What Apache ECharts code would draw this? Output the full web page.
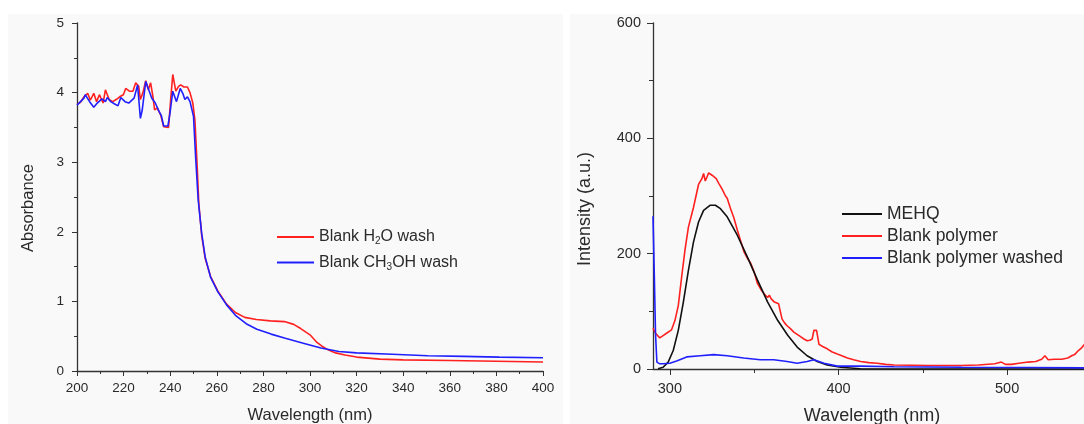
<!DOCTYPE html>
<html>
<head>
<meta charset="utf-8">
<script src="https://cdn.jsdelivr.net/npm/echarts@6/dist/echarts.min.js"></script>
<style>html,body{margin:0;padding:0;background:#fff}#c{width:1084px;height:424px}</style>
</head>
<body>
<div id="c"></div>
<script>
// ---- Left chart: absorbance ----
var wlH2O = [200, 201.5, 203, 204.6, 205.7, 207.2, 208.4, 209.6, 211.2, 212.2, 213.8, 215.3, 216.8, 218.3, 219.9, 220.9, 222.5, 224, 225.2, 226.5, 227.2, 228.3, 229.5, 230.6, 231.6, 232.6, 233.3, 234.4, 235.9, 237.2, 239.3, 240.2, 241.1, 242.4, 243.6, 244.5, 245.9, 247.4, 248.5, 249.7, 250.6, 251.5, 252.3, 253.5, 255, 257.3, 260.4, 264.2, 268, 272, 277, 283, 289, 293, 296, 300, 303, 305, 308, 311, 315, 320, 330, 340, 360, 380, 400];
var absH2O = [3.83, 3.86, 3.94, 3.99, 3.89, 3.99, 3.87, 3.97, 3.85, 4.04, 3.90, 3.87, 3.90, 3.94, 3.97, 4.06, 4.02, 4.02, 4.14, 4.09, 3.90, 4.00, 4.17, 4.04, 4.14, 3.94, 3.75, 3.78, 3.68, 3.51, 3.50, 3.90, 4.26, 4.02, 4.09, 4.11, 4.08, 4.08, 4.00, 3.85, 3.61, 3.00, 2.40, 1.95, 1.62, 1.36, 1.15, 0.96, 0.84, 0.77, 0.74, 0.72, 0.71, 0.67, 0.61, 0.52, 0.41, 0.36, 0.30, 0.26, 0.23, 0.20, 0.17, 0.16, 0.15, 0.14, 0.13];
var wlMeOH = [200, 203, 203.5, 205.4, 207.2, 208.7, 210.7, 212.2, 213, 214.5, 216, 217.6, 218.8, 220.6, 222.2, 224.5, 226, 227.2, 228, 229.5, 231, 232.1, 233.6, 235.2, 236.2, 237.2, 239, 239.9, 241.1, 242.7, 244.3, 245.4, 246.3, 247.4, 248.5, 250, 250.9, 252, 253.5, 255, 257.3, 260.4, 264.2, 268, 272.6, 277.2, 283.3, 289.4, 297.1, 304.7, 312.4, 320, 335.3, 350.6, 365.9, 381.2, 400];
var absMeOH = [3.82, 3.92, 3.97, 3.87, 3.79, 3.85, 3.91, 3.87, 3.93, 3.87, 3.84, 3.81, 3.93, 3.87, 3.85, 3.92, 4.11, 3.63, 3.75, 4.16, 4.02, 3.92, 3.85, 3.73, 3.67, 3.52, 3.52, 3.70, 4.02, 3.87, 4.06, 3.99, 3.90, 3.94, 3.87, 3.66, 3.08, 2.46, 1.98, 1.64, 1.35, 1.14, 0.95, 0.80, 0.68, 0.60, 0.53, 0.47, 0.40, 0.33, 0.28, 0.26, 0.24, 0.22, 0.21, 0.20, 0.19];

// ---- Right chart: fluorescence intensity ----
var wlMEHQ = [293, 296, 299, 302, 305, 308, 311, 314, 317, 320, 324, 327, 330, 334, 340, 346, 352, 358, 364, 370, 375.5, 381.4, 387.4, 393.3, 401.3, 413, 430, 480, 546];
var intMEHQ = [0.5, 3, 12, 32, 67, 116, 171, 220, 255, 275, 284, 284, 278, 264, 232, 194, 154, 116, 84, 58, 38, 23, 13, 7, 3, 0.5, 0, 0, 0];
var wlPoly = [290, 291.5, 294, 296, 298, 301, 303, 305, 307, 309, 311, 314, 317, 319, 320, 321, 322, 323, 324, 325, 326, 327.5, 329, 331, 332, 333, 334, 336, 338, 340, 342, 344, 346, 348, 350, 352, 354, 356, 358, 359, 360, 362, 363, 364.5, 365.5, 366.5, 368, 369.5, 371.5, 373.5, 375.5, 377.5, 379.5, 381.4, 383, 384.4, 385.4, 386.2, 387, 388.4, 390, 393.3, 396, 399.3, 402, 405.3, 409, 413.2, 418, 423, 428, 433, 443, 453, 463, 472.8, 483, 492.7, 496.6, 499, 502.6, 507, 512.5, 517, 520.5, 522.4, 524.4, 528, 532.4, 536, 538.3, 540, 542.3, 544, 545.9];
var intPoly = [71, 62, 54, 58, 62, 68, 84, 110, 160, 207, 246, 280, 320, 330, 339, 326, 333, 340, 342, 336, 333, 330, 322, 312, 310, 300, 296, 278, 262, 241, 222, 203, 192, 183, 168, 148, 138, 130, 124, 128, 122, 116, 117, 113, 100, 87, 80, 75, 70, 64, 60, 56, 52, 49, 50, 52, 67, 68, 67, 43, 40, 35, 30, 26, 23, 19, 16, 13, 11, 10, 8, 7, 6.5, 6, 6, 6, 7, 9, 12, 8, 8, 10, 12, 13, 17, 23, 16, 17, 17, 19, 23, 25, 32, 36, 43];
var wlWash = [290, 290.8, 291.5, 292.3, 294, 296, 300, 304, 310, 318, 326, 334, 343.7, 353.6, 361.6, 369.5, 375.5, 381.4, 385.4, 391.4, 399.3, 413, 433, 473, 510, 546];
var intWash = [265, 160, 60, 12, 9, 9, 10, 14, 21, 23, 25, 23, 19, 16, 16, 13, 10, 13, 16, 10, 5, 5, 4, 3, 2.5, 2];

var leftXTicks = [200, 400, 20];   // min, max, step
var leftYTicks = [0, 5, 1];
var rightXLabels = [300, 400, 500];
var rightXMinor = [350, 450];
var rightYTicks = [0, 600, 200];

function zip(a, b) { return a.map(function (v, i) { return [v, b[i]]; }); }

var FONT = '"Liberation Sans", Arial, Helvetica, sans-serif';
var TXT = '#2a2a2a';
var AX = '#333';
var RED = '#ff2020';
var BLUE = '#2020ff';

var chart = echarts.init(document.getElementById('c'), null, { renderer: 'canvas' });

var axisLineL = { show: true, lineStyle: { color: AX, width: 1.3 } };

chart.setOption({
  animation: false,
  backgroundColor: '#ffffff',
  textStyle: { fontFamily: FONT },
  graphic: [
    { type: 'rect', z: -10, shape: { x: 8, y: 14, width: 555, height: 410 }, style: { fill: '#f9f9f9' } },
    { type: 'rect', z: -10, shape: { x: 570, y: 14, width: 514, height: 410 }, style: { fill: '#f9f9f9' } },
    { type: 'text', x: 310, y: 415, style: { text: 'Wavelength (nm)', fill: TXT, font: '16.5px ' + FONT, align: 'center', verticalAlign: 'middle' } },
    { type: 'text', x: 28, y: 208, rotation: Math.PI / 2, style: { text: 'Absorbance', fill: TXT, font: '16.5px ' + FONT, align: 'center', verticalAlign: 'middle' } },
    { type: 'text', x: 872, y: 416, style: { text: 'Wavelength (nm)', fill: TXT, font: '18px ' + FONT, align: 'center', verticalAlign: 'middle' } },
    { type: 'text', x: 585, y: 209, rotation: Math.PI / 2, style: { text: 'Intensity (a.u.)', fill: TXT, font: '18px ' + FONT, align: 'center', verticalAlign: 'middle' } }
  ],
  grid: [
    { left: 77, top: 23, width: 466, height: 348 },
    { left: 653, top: 23, width: 431, height: 346 }
  ],
  legend: [
    {
      left: 277, top: 229, padding: 0, orient: 'vertical', icon: 'rect', itemWidth: 37, itemHeight: 2, itemGap: 8,
      data: ['Blank H2O wash', 'Blank CH3OH wash'],
      formatter: function (n) { return n === 'Blank H2O wash' ? 'Blank H{sub|2}O wash' : 'Blank CH{sub|3}OH wash'; },
      textStyle: { fontSize: 16, color: TXT, fontFamily: FONT,
        rich: { sub: { fontSize: 10, color: TXT, fontFamily: FONT, padding: [9, 0, 0, 0] } } }
    },
    {
      left: 842, top: 205, padding: 0, orient: 'vertical', icon: 'rect', itemWidth: 40, itemHeight: 2, itemGap: 4,
      data: ['MEHQ', 'Blank polymer', 'Blank polymer washed'],
      textStyle: { fontSize: 17.5, color: TXT, fontFamily: FONT }
    }
  ],
  xAxis: [
    {
      gridIndex: 0, type: 'value', position: 'bottom', min: leftXTicks[0], max: leftXTicks[1], interval: leftXTicks[2],
      axisLine: axisLineL, splitLine: { show: false },
      axisTick: { show: true, length: 5, lineStyle: { color: AX } },
      minorTick: { show: true, splitNumber: 2, length: 3, lineStyle: { color: AX } },
      axisLabel: { color: TXT, fontSize: 13.5, margin: 10, fontFamily: FONT, showMaxLabel: true, showMinLabel: true }
    },
    {
      gridIndex: 1, type: 'value', position: 'bottom', min: 290, max: 545.6,
      axisLine: axisLineL, splitLine: { show: false },
      axisTick: { show: true, length: 6, customValues: rightXLabels, lineStyle: { color: AX } },
      axisLabel: { color: TXT, fontSize: 14.5, margin: 12, fontFamily: FONT, customValues: rightXLabels }
    },
    {
      gridIndex: 1, type: 'value', position: 'bottom', min: 290, max: 545.6,
      axisLine: { show: false }, splitLine: { show: false },
      axisTick: { show: true, length: 4, customValues: rightXMinor, lineStyle: { color: AX } },
      axisLabel: { show: false }
    }
  ],
  yAxis: [
    {
      gridIndex: 0, type: 'value', min: leftYTicks[0], max: leftYTicks[1], interval: leftYTicks[2],
      axisLine: axisLineL, splitLine: { show: false },
      axisTick: { show: true, length: 5, lineStyle: { color: AX } },
      minorTick: { show: true, splitNumber: 2, length: 3, lineStyle: { color: AX } },
      axisLabel: { color: TXT, fontSize: 13.5, margin: 13, fontFamily: FONT }
    },
    {
      gridIndex: 1, type: 'value', min: rightYTicks[0], max: rightYTicks[1], interval: rightYTicks[2],
      axisLine: axisLineL, splitLine: { show: false },
      axisTick: { show: true, length: 6, lineStyle: { color: AX } },
      minorTick: { show: true, splitNumber: 2, length: 4, lineStyle: { color: AX } },
      axisLabel: { color: TXT, fontSize: 14.5, margin: 12, fontFamily: FONT }
    }
  ],
  series: [
    { name: 'Blank H2O wash', type: 'line', xAxisIndex: 0, yAxisIndex: 0, symbol: 'none', data: zip(wlH2O, absH2O), lineStyle: { color: RED, width: 1.6 }, itemStyle: { color: RED }, z: 3 },
    { name: 'Blank CH3OH wash', type: 'line', xAxisIndex: 0, yAxisIndex: 0, symbol: 'none', data: zip(wlMeOH, absMeOH), lineStyle: { color: BLUE, width: 1.6 }, itemStyle: { color: BLUE }, z: 4 },
    { name: 'MEHQ', type: 'line', xAxisIndex: 1, yAxisIndex: 1, symbol: 'none', data: zip(wlMEHQ, intMEHQ), lineStyle: { color: '#111', width: 1.6 }, itemStyle: { color: '#111' }, z: 3 },
    { name: 'Blank polymer', type: 'line', xAxisIndex: 1, yAxisIndex: 1, symbol: 'none', data: zip(wlPoly, intPoly), lineStyle: { color: RED, width: 1.6 }, itemStyle: { color: RED }, z: 2 },
    { name: 'Blank polymer washed', type: 'line', xAxisIndex: 1, yAxisIndex: 1, symbol: 'none', data: zip(wlWash, intWash), lineStyle: { color: BLUE, width: 1.6 }, itemStyle: { color: BLUE }, z: 4 }
  ]
});
</script>
</body>
</html>
